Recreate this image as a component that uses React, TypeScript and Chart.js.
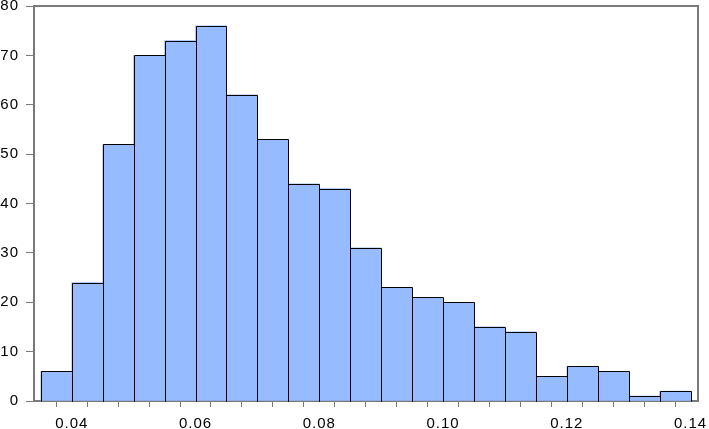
import React, { useEffect, useRef } from "react";
import { Chart, registerables } from "chart.js";

Chart.register(...registerables);

// Histogram bins (centers of bins of width 0.005, from 0.035 to 0.140)
const binCenters = [
  0.0375, 0.0425, 0.0475, 0.0525, 0.0575, 0.0625, 0.0675, 0.0725, 0.0775, 0.0825,
  0.0875, 0.0925, 0.0975, 0.1025, 0.1075, 0.1125, 0.1175, 0.1225, 0.1275, 0.1325, 0.1375,
];
const counts = [6, 24, 52, 70, 73, 76, 62, 53, 44, 43, 31, 23, 21, 20, 15, 14, 5, 7, 6, 1, 2];

// Tick marks on the x axis (bin edges) and which ones carry a label
const xTickValues = [
  0.035, 0.04, 0.045, 0.05, 0.055, 0.06, 0.065, 0.07, 0.075, 0.08, 0.085,
  0.09, 0.095, 0.1, 0.105, 0.11, 0.115, 0.12, 0.125, 0.13, 0.135, 0.14,
];
const xTickLabels = ["0.04", "0.06", "0.08", "0.10", "0.12", "0.14"];
const yTickValues = [0, 10, 20, 30, 40, 50, 60, 70, 80];

const X_MIN = 0.0339;
const X_MAX = 0.1412;
const AXIS_GRAY = "#7a7a7a";
const BAR_FILL = "rgb(150,188,255)";
const FONT = { family: "'Liberation Sans', Arial, sans-serif", size: 15 };

const textSpacing = {
  id: "textSpacing",
  beforeDraw(chart: any) {
    chart.ctx.letterSpacing = "1px";
  },
};

const frameAndBarOutline = {
  id: "frameAndBarOutline",
  afterDatasetsDraw(chart: any) {
    const ctx = chart.ctx;
    const meta = chart.getDatasetMeta(0);
    ctx.save();
    ctx.strokeStyle = "#000";
    ctx.lineWidth = 1;
    meta.data.forEach((el: any) => {
      const p = el.getProps(["x", "y", "base", "width"], true);
      const l = Math.round(p.x - p.width / 2) + 0.5;
      const r = Math.round(p.x + p.width / 2) + 0.5;
      const t = Math.round(p.y) + 0.5;
      const b = Math.round(p.base) + 0.5;
      ctx.beginPath();
      ctx.moveTo(l, b);
      ctx.lineTo(l, t);
      ctx.lineTo(r, t);
      ctx.lineTo(r, b);
      ctx.stroke();
    });
    ctx.restore();
  },
  afterDraw(chart: any) {
    const { ctx, chartArea } = chart;
    ctx.save();
    ctx.strokeStyle = AXIS_GRAY;
    ctx.lineWidth = 2;
    ctx.beginPath();
    ctx.moveTo(Math.round(chartArea.left), Math.round(chartArea.top));
    ctx.lineTo(Math.round(chartArea.right), Math.round(chartArea.top));
    ctx.lineTo(Math.round(chartArea.right), Math.round(chartArea.bottom));
    ctx.stroke();
    ctx.restore();
  },
};

export default function App() {
  const canvasRef = useRef<HTMLCanvasElement | null>(null);

  useEffect(() => {
    if (!canvasRef.current) return;
    const chart = new Chart(canvasRef.current, {
      type: "bar",
      data: {
        datasets: [
          {
            data: binCenters.map((x, i) => ({ x, y: counts[i] })),
            backgroundColor: BAR_FILL,
            borderWidth: 0,
            barPercentage: 1,
            categoryPercentage: 1,
          },
        ],
      },
      options: {
        responsive: false,
        animation: false,
        layout: { padding: { top: 6, right: 11, left: 0, bottom: 0 } },
        plugins: { legend: { display: false }, tooltip: { enabled: false } },
        scales: {
          x: {
            type: "linear",
            min: X_MIN,
            max: X_MAX,
            offset: false,
            afterBuildTicks: (scale: any) => {
              scale.ticks = xTickValues.map((v) => ({ value: v }));
            },
            afterFit: (scale: any) => {
              scale.height = 28;
              scale.paddingLeft = 0;
              scale.paddingRight = 0;
            },
            grid: {
              drawOnChartArea: false,
              drawTicks: true,
              tickLength: 6,
              color: AXIS_GRAY,
              lineWidth: 1,
            },
            border: { color: AXIS_GRAY, width: 2 },
            ticks: {
              autoSkip: false,
              maxRotation: 0,
              padding: 8,
              color: "#000",
              font: FONT,
              callback: (value: any) => {
                const s = Number(value).toFixed(2);
                return xTickLabels.includes(s) && Math.abs(Number(value) - Number(s)) < 1e-9 ? s : "";
              },
            },
          },
          y: {
            type: "linear",
            min: 0,
            max: 80,
            afterBuildTicks: (scale: any) => {
              scale.ticks = yTickValues.map((v) => ({ value: v }));
            },
            afterFit: (scale: any) => {
              scale.width = 34;
              scale.paddingTop = 0;
              scale.paddingBottom = 0;
            },
            grid: {
              drawOnChartArea: false,
              drawTicks: true,
              tickLength: 8,
              color: AXIS_GRAY,
              lineWidth: 1,
            },
            border: { color: AXIS_GRAY, width: 2 },
            ticks: {
              padding: 7,
              color: "#000",
              font: FONT,
              callback: (value: any) => String(value),
            },
          },
        },
      },
      plugins: [textSpacing, frameAndBarOutline],
    });
    return () => chart.destroy();
  }, []);

  return (
    <div style={{ position: "absolute", left: 0, top: 0, width: 709, height: 429, background: "#fff" }}>
      <canvas ref={canvasRef} width={709} height={429} />
    </div>
  );
}
